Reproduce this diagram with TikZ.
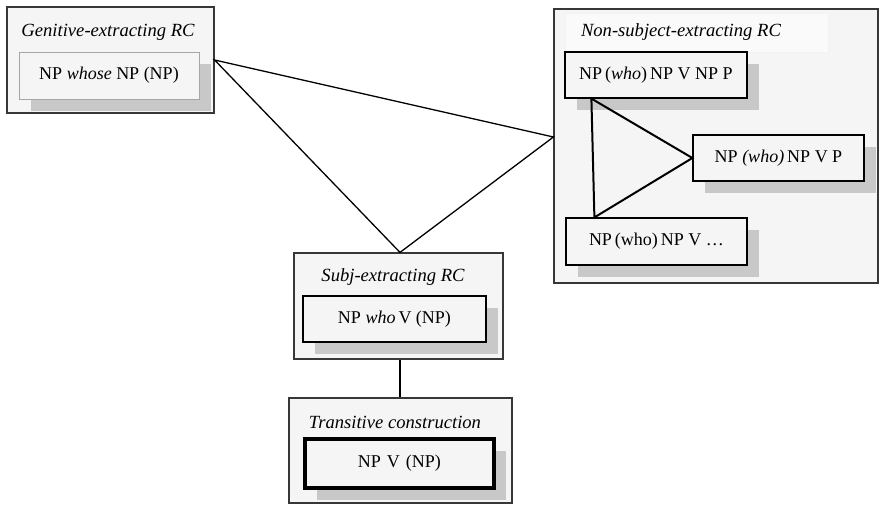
\documentclass[tikz,border=0pt]{standalone}
\usepackage{fontspec}
\setmainfont{Liberation Serif}
\usetikzlibrary{shadows, positioning}
\definecolor{cPanel}{RGB}{245,245,245}
\definecolor{cShade}{RGB}{200,200,200}
\definecolor{cEdge}{RGB}{55,55,55}
\tikzset{
	group/.style={rectangle, draw=cEdge, line width=1.2pt, fill=cPanel, inner sep=0pt},
	form/.style={rectangle, draw=black, line width=1.2pt, fill=cPanel, inner sep=0pt, text centered, font=\fontsize{18}{20}\selectfont, drop shadow={shadow xshift=12pt, shadow yshift=-12pt, fill=cShade, opacity=1}},
	grouptitle/.style={inner sep=0pt, font=\fontsize{18.6}{20}\selectfont\itshape},
	link/.style={line width=1.3pt},
	% links between the non-subject forms
	innerlink/.style={line width=2pt},
}

\begin{document}
\begin{tikzpicture}[x=1pt, y=-1pt]
	\useasboundingbox (0,0) rectangle (879,504);
	% groups
	\node[group, minimum width=207pt, minimum height=106pt] (gen) at (110.5,60) {};
	\node[group, minimum width=324pt, minimum height=274pt] (ns) at (716,146) {};
	\node[group, minimum width=209pt, minimum height=106pt] (subj) at (398.5,306) {};
	\node[group, minimum width=223pt, minimum height=105pt] (trans) at (400.5,450.5) {};
	% titles
	\node[grouptitle] (gentitle) at (108,32) {Genitive-extracting RC};
	\node[rectangle, draw=black!5, fill=white!55!cPanel, minimum width=263pt, minimum height=39pt] (nsbox) at (696.5,32.5) {};
	\node[grouptitle, anchor=west] (nstitle) at ([xshift=16pt]nsbox.west) {Non-subject-extracting RC};
	\node[grouptitle] (subjtitle) at (393,277) {Subj-extracting RC};
	\node[grouptitle] (transtitle) at (395,422) {Transitive construction};
	% forms
	\node[form, draw=black!35, line width=0.8pt, minimum width=180pt, minimum height=47pt] (genform) at (109,75.5) {NP \textit{whose} NP (NP)};
	\node[form, minimum width=182pt, minimum height=46pt] (ns1) at (656,75) {NP\,(\textit{who})\,NP V NP P};
	\node[form, minimum width=171pt, minimum height=46pt] (ns2) at (778.5,158) {NP \textit{(who)}\,NP V P};
	\node[form, minimum width=181pt, minimum height=47pt] (ns3) at (656.5,241.5) {NP\,(who)\,NP V \dots};
	\node[form, line width=2.2pt, minimum width=183pt, minimum height=46pt] (subjform) at (394.5,319) {NP \textit{who}\,V (NP)};
	\node[form, line width=3.6pt, minimum width=189pt, minimum height=49pt] (transform) at (399.5,463.5) {NP\,\,V\,\,(NP)};
	% links
	\draw[link] (gen.east) -- ([yshift=9pt]ns.west) -- ([xshift=1.5pt]subj.north) -- cycle;
	\draw[innerlink] ([xshift=27pt]ns1.south west) -- ([xshift=29pt]ns3.north west) -- (ns2.west) -- cycle;
	\draw[line width=2.2pt] ([xshift=1.5pt]subj.south) -- ([xshift=1.5pt]subj.south |- trans.north);
\end{tikzpicture}
\end{document}
